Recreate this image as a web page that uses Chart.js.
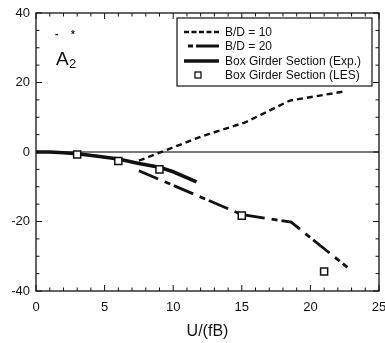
<!DOCTYPE html>
<html>
<head>
<meta charset="utf-8">
<script src="https://cdn.jsdelivr.net/npm/chart.js@4/dist/chart.umd.min.js"></script>
<style>
  html, body { margin: 0; padding: 0; background: #fff; }
  #wrap { width: 385px; height: 343px; }
</style>
</head>
<body>
<div id="wrap"><canvas id="chart"></canvas></div>
<script>
// values
var bd10U = [7.5, 12, 15.3, 18.5, 22.6];
var bd10A = [-2.5, 4.4, 8.6, 14.8, 17.5];
var bd20U = [7.5, 15, 18.6, 22.7];
var bd20A = [-5.4, -18, -20.2, -33.2];
var expU = [0, 1, 2, 3, 4.5, 6, 7.5, 9, 10, 11.7];
var expA = [0, 0, -0.2, -0.5, -1.2, -2.0, -3.3, -4.4, -5.7, -8.6];
var lesU = [3, 6, 9, 15, 21];
var lesA = [-0.7, -2.6, -5.0, -18.3, -34.4];

var xTicks = [0, 5, 10, 15, 20, 25];
var yTicks = [-40, -20, 0, 20, 40];
var legendNames = ['B/D = 10', 'B/D = 20', 'Box Girder Section (Exp.)', 'Box Girder Section (LES)'];

var FONT = '"Liberation Sans", Arial, sans-serif';
var INK = '#111';

function pts(xs, ys) {
    var out = [];
    for (var i = 0; i < xs.length; i++) out.push({ x: xs[i], y: ys[i] });
    return out;
}

// zero line, frame, inward ticks, legend box and the A2 label
var decor = {
    id: 'decor',
    beforeDatasetsDraw: function (chart) {
        var c = chart.ctx, a = chart.chartArea, y0 = chart.scales.y.getPixelForValue(0);
        c.save();
        c.strokeStyle = '#7a7a7a';
        c.lineWidth = 2;
        c.beginPath();
        c.moveTo(a.left, y0);
        c.lineTo(a.right, y0);
        c.stroke();
        c.restore();
    },
    afterDraw: function (chart) {
        var c = chart.ctx, a = chart.chartArea;
        var xs = chart.scales.x, ys = chart.scales.y;
        c.save();
        c.strokeStyle = INK;
        c.lineWidth = 1.3;
        c.strokeRect(a.left, a.top, a.right - a.left, a.bottom - a.top);

        c.lineWidth = 1;
        c.beginPath();
        for (var u = 0; u <= 25; u++) {
            var px = xs.getPixelForValue(u);
            var len = (u % 5 === 0) ? 6 : 3.5;
            c.moveTo(px, a.bottom); c.lineTo(px, a.bottom - len);
            c.moveTo(px, a.top); c.lineTo(px, a.top + len);
        }
        for (var v = -40; v <= 40; v += 5) {
            var py = ys.getPixelForValue(v);
            var l2 = (v % 20 === 0) ? 6 : 3.5;
            c.moveTo(a.left, py); c.lineTo(a.left + l2, py);
            c.moveTo(a.right, py); c.lineTo(a.right - l2, py);
        }
        c.stroke();

        // legend
        var bx = 177, by = 18, bw = 195, bh = 68;
        c.fillStyle = '#fff';
        c.fillRect(bx, by, bw, bh);
        c.lineWidth = 1.2;
        c.strokeStyle = INK;
        c.strokeRect(bx, by, bw, bh);
        var rows = [32, 46, 61, 75];
        var ds = chart.data.datasets;
        c.font = '12px ' + FONT;
        c.textBaseline = 'middle';
        for (var i = 0; i < 4; i++) {
            var d = ds[i];
            if (d.showLine) {
                c.strokeStyle = d.borderColor;
                c.lineWidth = d.borderWidth;
                c.setLineDash(d.legendDash || d.borderDash || []);
                c.beginPath();
                c.moveTo(d.legendStart || 184, rows[i]);
                c.lineTo(219, rows[i]);
                c.stroke();
                c.setLineDash([]);
            } else {
                c.fillStyle = '#fff';
                c.strokeStyle = INK;
                c.lineWidth = 1.3;
                c.fillRect(195, rows[i] - 3, 6, 6);
                c.strokeRect(195, rows[i] - 3, 6, 6);
            }
            c.fillStyle = INK;
            c.fillText(legendNames[i], 225, rows[i] + 1);
        }

        // A2* label
        c.font = '19px ' + FONT;
        c.textBaseline = 'alphabetic';
        c.fillText('A', 56, 65);
        c.font = '13px ' + FONT;
        c.fillText('2', 69, 68);
        c.font = 'bold 10px ' + FONT;
        c.fillText('-', 55, 37);
        c.fillText('*', 71, 38);
        c.restore();
    }
};

var config = {
    type: 'scatter',
    data: {
        datasets: [
            {
                label: legendNames[0],
                data: pts(bd10U, bd10A),
                showLine: true,
                borderColor: INK,
                borderWidth: 2.4,
                borderDash: [6, 4],
                legendDash: [5, 2.5],
                pointRadius: 0,
                order: 3
            },
            {
                label: legendNames[1],
                data: pts(bd20U, bd20A),
                showLine: true,
                borderColor: INK,
                borderWidth: 2.8,
                borderDash: [21, 7, 6, 4],
                legendDash: [5, 3, 30, 0],
                legendStart: 188,
                pointRadius: 0,
                order: 2
            },
            {
                label: legendNames[2],
                data: pts(expU, expA),
                showLine: true,
                borderColor: INK,
                borderWidth: 3.6,
                pointRadius: 0,
                order: 1
            },
            {
                label: legendNames[3],
                data: pts(lesU, lesA),
                showLine: false,
                pointStyle: 'rect',
                pointRadius: 5,
                pointBackgroundColor: '#fff',
                pointBorderColor: INK,
                pointBorderWidth: 1.5,
                order: 0
            }
        ]
    },
    options: {
        responsive: true,
        maintainAspectRatio: false,
        animation: false,
        events: [],
        layout: { autoPadding: false, padding: { top: 13, right: 6, left: 0, bottom: 0 } },
        plugins: { legend: { display: false }, tooltip: { enabled: false } },
        scales: {
            x: {
                type: 'linear',
                min: 0,
                max: 25,
                afterBuildTicks: function (s) { s.ticks = xTicks.map(function (v) { return { value: v }; }); },
                afterFit: function (s) { s.height = 52; s.paddingLeft = 0; s.paddingRight = 0; },
                grid: { display: false, drawTicks: false },
                border: { display: false },
                ticks: { padding: 9, color: INK, font: { family: FONT, size: 13 }, maxRotation: 0 },
                title: { display: true, text: 'U/(fB)', color: INK, font: { family: FONT, size: 16 }, padding: { top: 4, bottom: 2 } }
            },
            y: {
                type: 'linear',
                min: -40,
                max: 40,
                afterBuildTicks: function (s) { s.ticks = yTicks.map(function (v) { return { value: v }; }); },
                afterFit: function (s) { s.width = 36; s.paddingTop = 0; s.paddingBottom = 0; },
                grid: { display: false, drawTicks: false },
                border: { display: false },
                ticks: { padding: 6, color: INK, font: { family: FONT, size: 13 } }
            }
        }
    },
    plugins: [decor]
};

new Chart(document.getElementById('chart'), config);
</script>
</body>
</html>
